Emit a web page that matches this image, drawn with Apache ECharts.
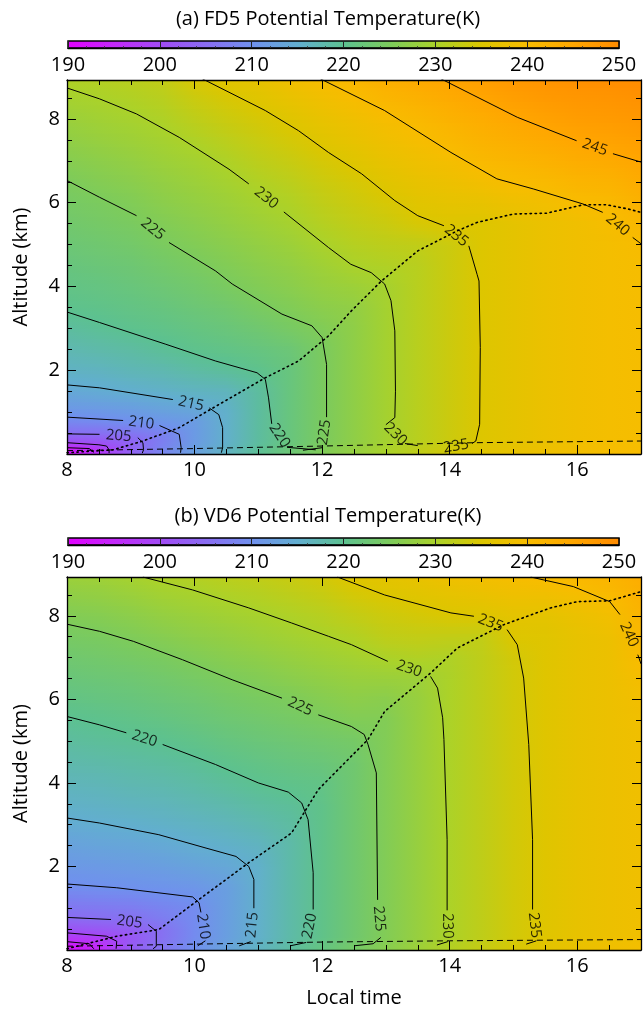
<!DOCTYPE html>
<html>
<head>
<meta charset="utf-8">
<script src="https://cdn.jsdelivr.net/npm/echarts@6/dist/echarts.min.js"></script>
<style>
html, body { margin: 0; background: #fff; }
#main { width: 644px; height: 1013px; }
</style>
</head>
<body>
<div id="main"></div>
<script>
// grid of the potential temperature field: columns = local time, rows = altitude (km)
const times = [8, 8.5, 9, 9.5, 10, 10.5, 11, 11.5, 12, 12.5, 13, 13.5, 14, 14.5, 15, 15.5, 16, 16.5, 17];
const heights = [0.1, 0.3, 0.5, 0.75, 1, 1.5, 2, 2.5, 3, 3.5, 4, 4.5, 5, 5.5, 6, 6.5, 7, 7.5, 8, 8.5, 9];

// (a) FD5, one profile per time (bottom -> top)
const thetaFD5 = [
  [192, 200.7, 205.3, 208.4, 210.8, 214.0, 216.0, 217.4, 218.9, 220.2, 221.0, 221.8, 222.6, 223.4, 224.2, 225.0, 226.1, 227.2, 228.3, 229.5, 230.6],
  [197, 201.5, 205.4, 208.8, 211.1, 214.5, 216.3, 218.0, 219.5, 220.6, 221.4, 222.3, 223.1, 224.0, 224.8, 225.8, 226.8, 227.9, 229.0, 230.0, 231.0],
  [203.5, 203.8, 206.2, 209.6, 211.6, 215.1, 217.0, 218.6, 220.2, 221.1, 222.0, 222.8, 223.7, 224.6, 225.5, 226.5, 227.5, 228.6, 229.6, 230.6, 231.6],
  [208.5, 207.6, 208.0, 210.7, 212.5, 215.6, 217.5, 219.5, 220.7, 221.7, 222.7, 223.7, 224.7, 225.6, 226.6, 227.5, 228.5, 229.4, 230.4, 231.4, 232.4],
  [212.5, 211.7, 211.7, 211.8, 213.2, 216.2, 218.4, 220.3, 221.4, 222.5, 223.5, 224.6, 225.6, 226.5, 227.5, 228.4, 229.3, 230.4, 231.9, 233.2, 234.8],
  [216.0, 215.4, 215.4, 215.4, 215.4, 216.5, 219.2, 220.9, 222.1, 223.3, 224.6, 225.6, 226.5, 227.5, 228.4, 229.4, 230.4, 231.7, 233.2, 234.5, 236.0],
  [219.5, 218.8, 218.8, 218.8, 218.8, 218.8, 220.2, 221.6, 223.1, 224.5, 225.6, 226.6, 227.5, 228.5, 229.5, 230.6, 231.8, 233.0, 234.3, 235.6, 237.0],
  [222.5, 221.8, 221.8, 221.8, 221.8, 221.8, 221.8, 222.5, 224.3, 225.5, 226.5, 227.5, 228.5, 229.5, 230.5, 231.7, 232.9, 234.2, 235.5, 237.1, 238.8],
  [225.3, 224.7, 224.7, 224.7, 224.7, 224.7, 224.7, 224.7, 225.5, 226.6, 227.7, 228.8, 229.9, 231.0, 232.1, 233.2, 234.3, 235.6, 237.1, 238.6, 240.1],
  [227.7, 227.1, 227.1, 227.1, 227.1, 227.1, 227.1, 227.1, 227.1, 227.3, 228.5, 230.0, 231.1, 232.2, 233.3, 234.3, 235.5, 237.0, 238.4, 239.9, 241.4],
  [230.0, 229.4, 229.4, 229.4, 229.4, 229.4, 229.4, 229.4, 229.4, 229.4, 229.5, 230.6, 231.8, 233.1, 234.4, 235.7, 237.1, 238.4, 239.7, 241.4, 243.2],
  [232.0, 231.4, 231.4, 231.4, 231.4, 231.4, 231.4, 231.4, 231.4, 231.4, 231.4, 231.4, 232.2, 234.4, 235.8, 237.1, 238.3, 239.5, 240.9, 242.6, 244.3],
  [234.0, 233.3, 233.3, 233.3, 233.3, 233.3, 233.3, 233.3, 233.3, 233.3, 233.3, 233.3, 233.3, 235.2, 236.6, 238.0, 239.3, 240.8, 242.3, 243.9, 245.5],
  [235.7, 235.1, 235.1, 235.1, 235.1, 235.1, 235.1, 235.1, 235.1, 235.1, 235.1, 235.1, 235.1, 235.1, 237.0, 239.0, 240.7, 242.1, 243.6, 245.1, 246.5],
  [237.0, 236.5, 236.5, 236.5, 236.5, 236.5, 236.5, 236.5, 236.5, 236.5, 236.5, 236.5, 236.5, 236.5, 238.0, 240.1, 241.6, 243.2, 244.8, 246.3, 247.7],
  [238.0, 237.6, 237.6, 237.6, 237.6, 237.6, 237.6, 237.6, 237.6, 237.6, 237.6, 237.6, 237.6, 237.6, 238.8, 240.6, 242.4, 244.1, 245.8, 247.2, 248.4],
  [239.0, 238.5, 238.5, 238.5, 238.5, 238.5, 238.5, 238.5, 238.5, 238.5, 238.5, 238.5, 238.5, 238.5, 240.1, 241.7, 243.4, 245.1, 246.6, 247.8, 249.0],
  [239.6, 239.2, 239.2, 239.2, 239.2, 239.2, 239.2, 239.2, 239.2, 239.2, 239.2, 239.2, 239.2, 239.6, 240.6, 242.2, 244.0, 245.6, 247.0, 248.2, 249.3],
  [240.0, 239.6, 239.6, 239.6, 239.6, 239.6, 239.6, 239.6, 239.6, 239.6, 239.6, 239.6, 240.0, 241.0, 242.5, 243.8, 245.1, 246.4, 247.6, 248.7, 249.6]
];

// (b) VD6
const thetaVD6 = [
  [192, 197.5, 201.3, 204.6, 206.4, 209.5, 211.3, 212.9, 214.5, 215.7, 216.7, 217.8, 218.8, 219.8, 221.0, 222.1, 223.2, 224.3, 225.6, 227.1, 228.6],
  [195.5, 198.3, 201.9, 205.1, 206.7, 209.9, 211.6, 213.3, 214.9, 216.0, 217.0, 218.1, 219.2, 220.2, 221.4, 222.5, 223.6, 224.7, 226.0, 227.5, 228.9],
  [202.5, 201.9, 203.0, 205.5, 207.1, 210.2, 211.9, 213.6, 215.2, 216.4, 217.5, 218.5, 219.6, 220.7, 221.8, 222.9, 224.1, 225.3, 226.7, 228.2, 229.7],
  [206.3, 205.7, 205.7, 207.2, 208.2, 210.5, 212.3, 214.1, 215.6, 216.7, 217.8, 218.9, 220.0, 221.2, 222.4, 223.5, 224.7, 226.1, 227.6, 229.1, 230.6],
  [210.0, 209.3, 209.3, 209.3, 209.3, 211.0, 213.0, 214.9, 216.1, 217.3, 218.4, 219.5, 220.7, 221.9, 223.0, 224.2, 225.5, 226.9, 228.3, 229.7, 231.1],
  [213.0, 212.4, 212.4, 212.4, 212.4, 212.4, 213.8, 215.5, 216.7, 217.9, 219.2, 220.4, 221.5, 222.7, 223.8, 225.0, 226.3, 227.6, 229.0, 230.4, 231.8],
  [216.0, 215.4, 215.4, 215.4, 215.4, 215.4, 215.4, 216.2, 217.5, 218.7, 220.0, 221.1, 222.2, 223.3, 224.5, 225.7, 227.0, 228.4, 229.7, 231.0, 232.4],
  [218.7, 218.1, 218.1, 218.1, 218.1, 218.1, 218.1, 218.1, 218.6, 219.4, 220.6, 221.7, 222.8, 224.0, 225.1, 226.5, 227.8, 229.1, 230.4, 231.8, 233.2],
  [221.3, 220.7, 220.7, 220.7, 220.7, 220.7, 220.7, 220.7, 220.7, 220.7, 221.0, 222.2, 223.4, 224.7, 226.0, 227.3, 228.6, 229.9, 231.2, 232.7, 234.2],
  [223.8, 223.2, 223.2, 223.2, 223.2, 223.2, 223.2, 223.2, 223.2, 223.2, 223.2, 223.2, 224.0, 225.5, 226.8, 228.0, 229.3, 230.7, 232.4, 234.1, 235.7],
  [226.2, 225.6, 225.6, 225.6, 225.6, 225.6, 225.6, 225.6, 225.6, 225.6, 225.6, 225.6, 225.6, 225.6, 226.5, 228.2, 230.2, 232.0, 233.4, 235.0, 236.5],
  [228.5, 227.9, 227.9, 227.9, 227.9, 227.9, 227.9, 227.9, 227.9, 227.9, 227.9, 227.9, 227.9, 227.9, 227.9, 228.5, 230.7, 232.4, 234.1, 235.7, 237.3],
  [230.8, 230.2, 230.2, 230.2, 230.2, 230.2, 230.2, 230.2, 230.2, 230.2, 230.2, 230.2, 230.2, 230.2, 230.2, 230.2, 230.4, 232.3, 234.8, 236.6, 238.4],
  [232.6, 232.0, 232.0, 232.0, 232.0, 232.0, 232.0, 232.0, 232.0, 232.0, 232.0, 232.0, 232.0, 232.0, 232.0, 232.0, 232.0, 232.3, 235.1, 237.3, 239.2],
  [234.4, 233.9, 233.9, 233.9, 233.9, 233.9, 233.9, 233.9, 233.9, 233.9, 233.9, 233.9, 233.9, 233.9, 233.9, 233.9, 234.0, 235.1, 236.4, 238.2, 239.9],
  [236.1, 235.6, 235.6, 235.6, 235.6, 235.6, 235.6, 235.6, 235.6, 235.6, 235.6, 235.6, 235.6, 235.6, 235.6, 235.6, 235.6, 235.6, 236.4, 238.4, 240.6],
  [237.4, 236.9, 236.9, 236.9, 236.9, 236.9, 236.9, 236.9, 236.9, 236.9, 236.9, 236.9, 236.9, 236.9, 236.9, 236.9, 236.9, 236.9, 237.6, 239.3, 241.2],
  [238.4, 237.9, 237.9, 237.9, 237.9, 237.9, 237.9, 237.9, 237.9, 237.9, 237.9, 237.9, 237.9, 237.9, 237.9, 237.9, 237.9, 237.9, 238.8, 240.4, 242.0],
  [239.1, 238.6, 238.6, 238.6, 238.6, 238.6, 238.6, 238.6, 238.6, 238.6, 238.6, 238.6, 238.6, 238.7, 238.9, 239.4, 240.3, 241.0, 241.8, 242.7, 243.6]
];

// colour scale
const paletteValues = [190, 195, 200, 205, 210, 215, 220, 225, 230, 235, 240, 245, 250];
const paletteColors = ['#e100ff', '#c428fa', '#a24af5', '#8a6cf2', '#7090ee', '#62aed0', '#5cc190',
                       '#7ccb5c', '#aad22a', '#dcc600', '#f8bc00', '#ffa600', '#ff8a00'];
const colorbarTicks = [190, 200, 210, 220, 230, 240, 250];

// contour lines [time, km]; a string marks where the contour label sits
const fd5Contours = [
  [[8, 0.15], [8.35, 0.13], [8.42, 0.04]],
  [[8, 0.27], [8.5, 0.22], [8.62, 0.19], [8.66, 0.1], [8.66, 0.02]],
  [[8, 0.48], [8.51, 0.47], '205', [9.11, 0.39], [9.19, 0.27], [9.2, 0.1], [9.18, 0.02]],
  [[8, 0.88], [8.88, 0.8], '210', [9.45, 0.68], [9.76, 0.47], [9.79, 0.15], [9.78, 0.03]],
  [[8, 1.65], [8.51, 1.58], [9.66, 1.3], '215', [10.23, 1.1], [10.38, 0.94], [10.44, 0.63], [10.44, 0.15], [10.42, 0.03]],
  [[8, 3.39], [8.51, 3.14], [9.55, 2.62], [10.33, 2.22], [10.98, 1.94], [11.11, 1.78], [11.16, 1.34], [11.21, 0.72], '220', [11.45, 0.16], [11.9, 0.1]],
  [[8, 6.53], [8.51, 6.13], [9.09, 5.69], '225', [9.6, 5.05], [10.33, 4.37], [10.59, 4.06], [11.37, 3.34], [11.84, 3.06], [12, 2.78], [12.07, 2.14], [12.07, 0.88], '225', [12.0, 0.15], [11.7, 0.09]],
  [[8, 8.74], [8.51, 8.48], [9.09, 8.12], [9.76, 7.56], [10.54, 6.8], [10.85, 6.45], '230', [11.4, 5.78], [12.1, 4.93], [12.45, 4.53], [12.77, 4.33], [12.98, 4.06], [13.08, 3.66], [13.14, 2.94], [13.15, 1.5], [13.14, 0.87], [13.0, 0.7], '230', [13.3, 0.25], [13.5, 0.2]],
  [[10.12, 8.96], [11.11, 8.2], [11.63, 7.72], [12.1, 7.2], [12.62, 6.69], [13.14, 6.05], [13.5, 5.69], [13.91, 5.45], '235', [14.3, 4.97], [14.43, 4.29], [14.46, 4.13], [14.48, 2.54], [14.47, 0.71], [14.41, 0.31], [14.35, 0.25], '235', [13.85, 0.12]],
  [[11.97, 8.96], [12.98, 8.2], [14.02, 7.2], [14.74, 6.57], [15.31, 6.33], [16.09, 5.97], [16.4, 5.77], '240', [16.87, 5.17], [17, 5.02]],
  [[13.86, 8.96], [15.06, 8.04], [15.99, 7.48], '245', [16.56, 7.17], [17, 6.97]]
];
const fd5Dotted = [[8, 0.03], [8.72, 0.1], [9.19, 0.31], [9.76, 0.63], [10.38, 1.18], [11.11, 1.82], [11.63, 2.22], [12.1, 2.82], [12.46, 3.42], [12.93, 4.13], [13.5, 4.85], [14.12, 5.33], [14.43, 5.53], [15.0, 5.73], [15.52, 5.75], [16.09, 5.95], [16.46, 5.95], [16.8, 5.85], [17, 5.77]];
const fd5Dashed = [[8, 0.08], [10, 0.13], [12, 0.19], [14.4, 0.27], [17, 0.31]];

const vd6Contours = [
  [[8, 0.2], [8.35, 0.15], [8.42, 0.03]],
  [[8, 0.41], [8.62, 0.33], [8.78, 0.21], [8.77, 0.03]],
  [[8, 0.78], [8.69, 0.73], '205', [9.27, 0.61], [9.4, 0.45], [9.4, 0.09], [9.35, 0.03]],
  [[8, 1.58], [8.78, 1.49], [9.97, 1.27], [10.07, 1.13], [10.1, 0.9], '210', [10.17, 0.22], [10.05, 0.1]],
  [[8, 3.16], [8.51, 3.04], [9.44, 2.76], [10.18, 2.44], [10.65, 2.24], [10.85, 2.0], [10.93, 1.69], [10.93, 1.0], '215', [10.88, 0.2], [10.7, 0.1]],
  [[8, 5.59], [8.51, 5.39], [8.93, 5.2], '220', [9.5, 4.92], [10.33, 4.44], [11.0, 4.0], [11.47, 3.78], [11.68, 3.52], [11.78, 3.12], [11.86, 1.85], [11.86, 0.97], '220', [11.75, 0.18], [11.5, 0.1]],
  [[8, 7.8], [8.51, 7.63], [9.04, 7.39], [9.81, 6.95], [10.59, 6.47], [11.37, 6.03], '225', [11.94, 5.63], [12.46, 5.35], [12.66, 5.16], [12.72, 4.92], [12.85, 4.24], [12.87, 1.2], '225', [12.92, 0.3], [12.8, 0.15], [12.5, 0.1]],
  [[9.19, 8.93], [9.97, 8.62], [10.85, 8.19], [11.52, 7.83], [12.1, 7.51], [12.46, 7.31], [13.03, 6.91], '230', [13.7, 6.55], [13.81, 6.27], [13.89, 5.56], [13.91, 5.04], [13.96, 2.64], [13.96, 0.95], '230', [13.97, 0.2], [13.8, 0.12]],
  [[12.24, 8.93], [12.98, 8.5], [14.02, 8.07], [14.38, 7.99], '235', [14.9, 7.67], [15.06, 7.31], [15.16, 6.51], [15.24, 4.92], [15.3, 2.64], [15.3, 0.97], '235', [15.36, 0.22], [15.2, 0.14]],
  [[15.27, 8.93], [15.94, 8.7], [16.51, 8.34], [16.67, 8.03], '240', [16.95, 7.07], [17, 6.85]]
];
const vd6Dotted = [[8, 0.03], [8.78, 0.33], [9.44, 0.49], [10.07, 1.21], [10.85, 2.09], [11.52, 2.8], [11.94, 3.84], [12.4, 4.55], [12.72, 5.04], [12.98, 5.71], [13.7, 6.63], [14.12, 7.23], [14.85, 7.79], [15.58, 8.19], [16.0, 8.34], [16.51, 8.36], [17, 8.58]];
const vd6Dashed = [[8, 0.09], [12, 0.19], [14, 0.22], [17, 0.25]];

const FONT = '"Open Sans", sans-serif';
const T0 = 8, T1 = 17, ZMAX = 8.93;
const PLOT_LEFT = 67, PLOT_W = 578;
const panels = [
  {top: 80, height: 374, title: '(a) FD5 Potential Temperature(K)', field: thetaFD5, contours: fd5Contours, dotted: fd5Dotted, dashed: fd5Dashed},
  {top: 577, height: 373, title: '(b) VD6 Potential Temperature(K)', field: thetaVD6, contours: vd6Contours, dotted: vd6Dotted, dashed: vd6Dashed}
];

function hexRgb(h) {
  return [parseInt(h.slice(1, 3), 16), parseInt(h.slice(3, 5), 16), parseInt(h.slice(5, 7), 16)];
}
const paletteRgb = paletteColors.map(hexRgb);
function colorOf(v) {
  const n = paletteValues.length;
  if (v <= paletteValues[0]) return paletteColors[0];
  if (v >= paletteValues[n - 1]) return paletteColors[n - 1];
  let i = 0;
  while (v > paletteValues[i + 1]) i++;
  const f = (v - paletteValues[i]) / (paletteValues[i + 1] - paletteValues[i]);
  const a = paletteRgb[i], b = paletteRgb[i + 1];
  return 'rgb(' + a.map((c, k) => Math.round(c + (b[k] - c) * f)).join(',') + ')';
}

// split a contour at its label markers
function parseContour(pts, pxH, pxZ) {
  const segs = [[]];
  const labels = [];
  pts.forEach((p, i) => {
    if (typeof p === 'string') {
      const a = pts[i - 1], b = pts[i + 1];
      let dx = (b[0] - a[0]) * pxH, dy = -(b[1] - a[1]) * pxZ;
      if (dx < 0) { dx = -dx; dy = -dy; }
      const ang = Math.atan2(dy, dx) * 180 / Math.PI;
      labels.push({value: [(a[0] + b[0]) / 2, (a[1] + b[1]) / 2], label: {formatter: p, rotate: -ang}});
      segs.push([]);
    } else {
      segs[segs.length - 1].push(p);
    }
  });
  return {segs: segs.filter(s => s.length > 1), labels};
}

const black = {color: '#000'};
function xAxes(g, withName) {
  const base = {gridIndex: g, type: 'value', min: T0, max: T1, splitLine: {show: false}, z: 5};
  const major = {
    ...base, interval: 2,
    axisLine: {onZero: false, lineStyle: {color: '#000', width: 1.3}},
    axisTick: {inside: true, length: 9, lineStyle: black},
    axisLabel: {show: false}
  };
  const minor = {
    ...base, interval: 0.5,
    axisLine: {show: false, onZero: false},
    axisTick: {inside: true, length: 5, lineStyle: black},
    axisLabel: {show: false}
  };
  const bottom = {
    ...major, position: 'bottom',
    axisLabel: {show: true, color: '#000', fontSize: 20, fontFamily: FONT, margin: 6,
      formatter: v => (v % 2 === 0 && v < T1) ? String(v) : ''}
  };
  if (withName) {
    Object.assign(bottom, {name: 'Local time', nameLocation: 'middle', nameGap: 38,
      nameTextStyle: {color: '#000', fontSize: 20, fontFamily: FONT}});
  }
  return [bottom, {...minor, position: 'bottom'}, {...major, position: 'top'}, {...minor, position: 'top'}];
}
function yAxes(g) {
  const base = {gridIndex: g, type: 'value', min: 0, max: ZMAX, splitLine: {show: false}, z: 5};
  const major = {
    ...base, interval: 2,
    axisLine: {onZero: false, lineStyle: {color: '#000', width: 1.3}},
    axisTick: {inside: true, length: 9, lineStyle: black},
    axisLabel: {show: false}
  };
  const minor = {
    ...base, interval: 0.5,
    axisLine: {show: false, onZero: false},
    axisTick: {inside: true, length: 5, lineStyle: black},
    axisLabel: {show: false}
  };
  const left = {
    ...major, position: 'left',
    axisLabel: {show: true, color: '#000', fontSize: 20, fontFamily: FONT, margin: 7,
      formatter: v => (v > 0 && v % 2 === 0) ? String(v) : ''},
    name: 'Altitude (km)', nameLocation: 'middle', nameGap: 36,
    nameTextStyle: {color: '#000', fontSize: 20, fontFamily: FONT}
  };
  return [left, {...minor, position: 'left'}, {...major, position: 'right'}, {...minor, position: 'right'}];
}

function fieldSeries(field, ai) {
  const tSpan = times[times.length - 1] - times[0];
  return {
    type: 'custom', xAxisIndex: ai, yAxisIndex: ai, clip: true, z: 1, silent: true,
    data: heights.slice(0, -1).map(h => [times[0], h]),
    renderItem: (params, api) => {
      const j = params.dataIndex;
      const lo = j === 0 ? 0 : heights[j], hi = heights[j + 1];
      const children = [];
      const n = 6;
      for (let k = 0; k < n; k++) {
        const za = lo + (hi - lo) * k / n, zb = lo + (hi - lo) * (k + 1) / n;
        let f = ((za + zb) / 2 - heights[j]) / (heights[j + 1] - heights[j]);
        f = Math.max(0, Math.min(1, f));
        const stops = times.map((t, i) => ({
          offset: (t - times[0]) / tSpan,
          color: colorOf(field[i][j] * (1 - f) + field[i][j + 1] * f)
        }));
        const p0 = api.coord([times[0], zb]);
        const p1 = api.coord([times[times.length - 1], za]);
        children.push({
          type: 'rect',
          shape: {x: p0[0], y: p0[1] - 0.5, width: p1[0] - p0[0], height: p1[1] - p0[1] + 1},
          style: {fill: new echarts.graphic.LinearGradient(0, 0, 1, 0, stops)}
        });
      }
      return {type: 'group', children};
    }
  };
}

const grid = [], xAxis = [], yAxis = [], series = [], graphic = [];
panels.forEach((p, g) => {
  grid.push({left: PLOT_LEFT, top: p.top, width: PLOT_W, height: p.height});
  xAxis.push(...xAxes(g, g === 1));
  yAxis.push(...yAxes(g));
});
panels.forEach((p, g) => {
  const cg = 2 + g;
  grid.push({left: 68, top: p.top - 39, width: 551, height: 7});
  xAxis.push({
    gridIndex: cg, type: 'value', min: colorbarTicks[0], max: colorbarTicks[colorbarTicks.length - 1], interval: 10,
    position: 'bottom', z: 5, splitLine: {show: false},
    axisLine: {onZero: false, lineStyle: {color: '#000', width: 1.3}},
    axisTick: {inside: true, length: 7, lineStyle: {color: '#222', width: 1}},
    minorTick: {show: true, splitNumber: 5, length: 2, lineStyle: {color: '#333', width: 0.8}},
    axisLabel: {color: '#000', fontSize: 20, fontFamily: FONT, margin: 7}
  });
  yAxis.push({gridIndex: cg, type: 'value', min: 0, max: 1, show: false});
  graphic.push({
    type: 'text', x: 328, y: p.top - 61,
    style: {text: p.title, fontSize: 20, fontFamily: FONT, fill: '#000', align: 'center', verticalAlign: 'middle'}
  });
});

panels.forEach((p, g) => {
  const ai = g * 4;
  const pxH = PLOT_W / (T1 - T0), pxZ = p.height / ZMAX;
  const segs = [], labels = [];
  p.contours.forEach(c => {
    const r = parseContour(c, pxH, pxZ);
    segs.push(...r.segs);
    labels.push(...r.labels);
  });
  series.push(fieldSeries(p.field, ai));
  series.push({
    type: 'lines', coordinateSystem: 'cartesian2d', xAxisIndex: ai, yAxisIndex: ai, polyline: true, silent: true, z: 3,
    lineStyle: {color: '#000', width: 1, opacity: 1},
    data: segs.map(s => ({coords: s}))
  });
  series.push({
    type: 'lines', coordinateSystem: 'cartesian2d', xAxisIndex: ai, yAxisIndex: ai, polyline: true, silent: true, z: 3,
    lineStyle: {color: '#000', width: 1.6, opacity: 1, type: [1.4, 3.6], cap: 'round'},
    data: [{coords: p.dotted}]
  });
  series.push({
    type: 'lines', coordinateSystem: 'cartesian2d', xAxisIndex: ai, yAxisIndex: ai, polyline: true, silent: true, z: 3,
    lineStyle: {color: '#000', width: 1, opacity: 1, type: [6, 4]},
    data: [{coords: p.dashed}]
  });
  series.push({
    type: 'scatter', xAxisIndex: ai, yAxisIndex: ai, symbolSize: 1, silent: true, z: 4,
    itemStyle: {color: 'rgba(0,0,0,0)'},
    label: {show: true, position: 'inside', color: '#000', fontSize: 15, fontFamily: FONT, align: 'center', verticalAlign: 'middle'},
    data: labels
  });
});

// colour bars
[0, 1].forEach(g => {
  const idx = 8 + g;
  series.push({
    type: 'custom', xAxisIndex: idx, yAxisIndex: idx, z: 1, silent: true,
    data: [[colorbarTicks[0], 0]],
    renderItem: (params, api) => {
      const lo = colorbarTicks[0], hi = colorbarTicks[colorbarTicks.length - 1];
      const a = api.coord([lo, 1]), b = api.coord([hi, 0]);
      const stops = paletteValues.map(v => ({offset: (v - lo) / (hi - lo), color: colorOf(v)}));
      return {
        type: 'rect',
        shape: {x: a[0], y: a[1], width: b[0] - a[0], height: b[1] - a[1]},
        style: {fill: new echarts.graphic.LinearGradient(0, 0, 1, 0, stops), stroke: '#000', lineWidth: 1.5}
      };
    }
  });
});

const chart = echarts.init(document.getElementById('main'), null, {renderer: 'canvas'});
chart.setOption({
  animation: false,
  backgroundColor: '#fff',
  textStyle: {fontFamily: FONT},
  grid, xAxis, yAxis, series, graphic
});
</script>
</body>
</html>
